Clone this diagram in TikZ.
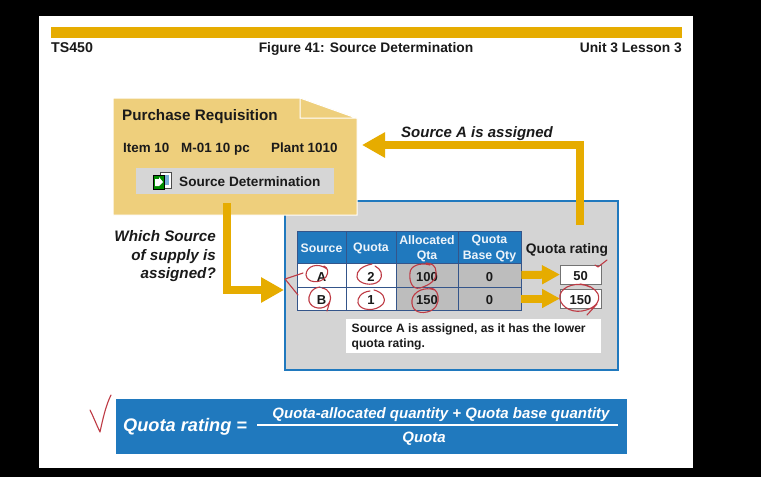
\documentclass[tikz,border=0pt]{standalone}
\usepackage{fontspec}
\setmainfont{Liberation Sans}
\usetikzlibrary{arrows.meta,calc}
\definecolor{gold}{HTML}{E6AC00}
\definecolor{pale}{HTML}{EECF7C}
\definecolor{btn}{HTML}{D6D6D6}
\definecolor{panel}{HTML}{D4D4D4}
\definecolor{sapblue}{HTML}{2079BE}
\definecolor{rowgrey}{HTML}{BDBDBD}
\definecolor{gridc}{HTML}{34558A}
\definecolor{ink}{HTML}{1A1A1A}
\definecolor{pen}{HTML}{BE3A44}
\tikzset{
  box/.style={anchor=north west,inner sep=0pt,outer sep=0pt},
  lbl/.style={font=\bfseries\fontsize{#1}{#1}\selectfont,text=ink,inner sep=0pt},
  hd/.style={draw=gridc,line width=.9pt,fill=sapblue},
  wc/.style={draw=gridc,line width=.9pt,fill=white},
  gc/.style={wc,fill=rowgrey},
  hdt/.style={text=white!92!sapblue,align=center,inner sep=0pt,font=\bfseries\fontsize{12.3}{15.5}\selectfont},
  bodyt/.style={text=ink,inner sep=0pt,font=\bfseries\fontsize{13}{15}\selectfont},
  ratebox/.style={box,draw=black!55,line width=.8pt,fill=white,minimum width=41pt,minimum height=19pt},
  flow/.style={draw=gold,line width=8pt,-{Triangle[length=23pt,width=24pt]}},
  flowsmall/.style={draw=gold,line width=8pt,-{Triangle[length=18pt,width=18pt]}},
  ink stroke/.style={draw=pen,line width=1.1pt,line cap=round,line join=round},
}
\newcommand{\cellat}[8]{% name, box style, text style, x1, y1, x2, y2, text
  \node[#2,minimum width=#6pt-#4pt,minimum height=#7pt-#5pt,anchor=center,inner sep=0pt] (#1) at ({(#4+#6)/2},{(#5+#7)/2}) {};
  \node[#3,yshift=-1.6pt] (#1t) at (#1.center) {#8};}
\begin{document}
\begin{tikzpicture}[x=1pt,y=-1pt]
\useasboundingbox (0,0) rectangle (761,477);
\fill[black] (0,0) rectangle (761,477);
\fill[white] (39,16) rectangle (693,468);
\fill[gold] (51,27) rectangle (682,38);
\node[lbl=14.2,anchor=base west] (ts) at (51,52) {TS450};
\node[lbl=13.8,anchor=base] (fig) at (366,52) {Figure 41: Source Determination};
\node[lbl=13.8,anchor=base east] (unit) at (682,52) {Unit 3 Lesson 3};
% panel
\node[box,draw=sapblue,line width=1.6pt,fill=panel,minimum width=333pt,minimum height=169pt] (panelbox) at (285,201) {};
% requisition sheet
\fill[pale,draw=white,line width=1pt] (113,98) -- (300,98) -- (357,118) -- (357,215) -- (113,215) -- cycle;
\fill[pale,draw=white,line width=1pt] (300,98) -- (300,118) -- (356,118) -- cycle;
\node[lbl=15.2,anchor=base west] (pr) at (122,120) {Purchase Requisition};
\node[lbl=13.4,anchor=base west] (item) at (123,152) {Item 10};
\node[lbl=13.4,anchor=base west] (mat) at (181,152) {M-01 10 pc};
\node[lbl=13.4,anchor=base west] (plant) at (271,152) {Plant 1010};
\node[box,fill=btn,minimum width=198pt,minimum height=26pt] (btnbox) at (136,168) {};
\node[lbl=13.6,anchor=base west] (btntext) at (179,186) {Source Determination};
% icon
\fill[white,draw=black!70,line width=.5pt] (160,172) rectangle (171,188);
\fill[sapblue!60] (164,175) rectangle (169,185);
\fill[green!55!black,draw=black,line width=.5pt] (153,175) rectangle (164,189);
\fill[white] (155,179) -- (159,179) -- (159,177) -- (163,182) -- (159,186) -- (155,186) -- cycle;
% table
\cellat{h1}{hd}{hdt}{297}{231}{346}{263}{Source}
\cellat{h2}{hd}{hdt}{346}{231}{396}{263}{Quota}
\cellat{h3}{hd}{hdt}{396}{231}{458}{263}{Allocated\\Qta}
\cellat{h4}{hd}{hdt}{458}{231}{521}{263}{Quota\\Base Qty}
\cellat{a1}{wc}{bodyt}{297}{263}{346}{287}{A}
\cellat{a2}{wc}{bodyt}{346}{263}{396}{287}{2}
\cellat{a3}{gc}{bodyt}{396}{263}{458}{287}{100}
\cellat{a4}{gc}{bodyt}{458}{263}{521}{287}{0}
\cellat{b1}{wc}{bodyt}{297}{287}{346}{310}{B}
\cellat{b2}{wc}{bodyt}{346}{287}{396}{310}{1}
\cellat{b3}{gc}{bodyt}{396}{287}{458}{310}{150}
\cellat{b4}{gc}{bodyt}{458}{287}{521}{310}{0}
\node[lbl=13.8,anchor=base] (qr) at (567,253) {Quota rating};
\node[ratebox] (r1) at (560,265) {};
\node[bodyt,yshift=-1.6pt] (r1t) at (r1.center) {50};
\node[ratebox] (r2) at (560,289) {};
\node[bodyt,yshift=-1.6pt] (r2t) at (r2.center) {150};
\draw[flowsmall] (a4.east) -- (r1.west);
\draw[flowsmall] (b4.east) -- (r2.west);
\node[box,fill=white,minimum width=255pt,minimum height=34pt] (note) at (346,319) {};
\node[anchor=west,align=left,inner sep=0pt,text=ink,font=\bfseries\fontsize{12.1}{15}\selectfont] (notetext) at (351.5,336.5) {Source A is assigned, as it has the lower\\quota rating.};
% flows
\coordinate (upstart) at (580,225);
\coordinate (upcorner) at (580,145);
\coordinate (downstart) at (227,203);
\coordinate (downcorner) at (227,290);
\coordinate (downend) at (284,290);
\coordinate (upend) at (362,145);
\draw[flow] (upstart) -- (upcorner) -- (upend);
\draw[flow] (downstart) -- (downcorner) -- (downend);
\node[anchor=base west,inner sep=0pt,text=ink,font=\bfseries\itshape\fontsize{15}{15}\selectfont] (assigned) at (401,137) {Source A is assigned};
\node[align=right,anchor=east,inner sep=0pt,text=ink,font=\bfseries\itshape\fontsize{15.2}{18.5}\selectfont] (which) at (216,256.5) {Which Source\\of supply is\\assigned?};
% formula
\node[box,fill=sapblue,minimum width=511pt,minimum height=55pt] (fbox) at (116,399) {};
\node[anchor=base west,inner sep=0pt,text=white,font=\bfseries\itshape\fontsize{18.2}{18.2}\selectfont] (fl) at (123,431) {Quota rating =};
\fill[white] (257,423.7) rectangle (618,426.3);
\node[anchor=base,inner sep=0pt,text=white,font=\bfseries\itshape\fontsize{15}{15}\selectfont] (fn) at (441,418) {Quota-allocated quantity + Quota base quantity};
\node[anchor=base,inner sep=0pt,text=white,font=\bfseries\itshape\fontsize{15}{15}\selectfont] (fd) at (424,442) {Quota};
% handwriting
\draw[ink stroke] (327,269) .. controls (318,262) and (306,266) .. (306,275) .. controls (307,283) and (320,284) .. (326,277) .. controls (329,272) and (328,268) .. (324,266);
\draw[ink stroke] (320,287) .. controls (311,288) and (308,296) .. (309,301) .. controls (311,309) and (324,311) .. (329,303) .. controls (333,296) and (329,289) .. (322,288) (330,301) -- (327,311);
\draw[ink stroke] (372,264) .. controls (362,266) and (356,271) .. (357,277) .. controls (358,284) and (373,287) .. (379,281) .. controls (384,275) and (381,269) .. (375,266);
\draw[ink stroke] (370,291) .. controls (361,292) and (357,298) .. (358,303) .. controls (360,311) and (376,312) .. (383,304) .. controls (387,298) and (382,292) .. (374,290);
\draw[ink stroke] (430,265) .. controls (420,262) and (410,266) .. (410,273) .. controls (409,281) and (412,290) .. (420,288) .. controls (430,285) and (437,280) .. (436,272) .. controls (436,266) and (432,263) .. (426,263);
\draw[ink stroke] (435,290) .. controls (424,286) and (413,292) .. (412,300) .. controls (411,310) and (418,314) .. (427,312) .. controls (436,310) and (439,303) .. (438,296) .. controls (437,290) and (433,288) .. (430,288);
\draw[ink stroke] (590,287) .. controls (578,281) and (562,286) .. (560,295) .. controls (558,305) and (570,313) .. (582,311) .. controls (594,309) and (601,302) .. (598,294) .. controls (595,288) and (588,285) .. (580,284) (597,304) -- (587,315);
\draw[ink stroke] (595,265) -- (598,267) -- (607,260);
\draw[ink stroke] (303,273) -- (285,279) -- (298,295);
\draw[ink stroke] (90,410) .. controls (94,418) and (97,426) .. (100,432) .. controls (103,418) and (106,405) .. (111,395);
\end{tikzpicture}
\end{document}
